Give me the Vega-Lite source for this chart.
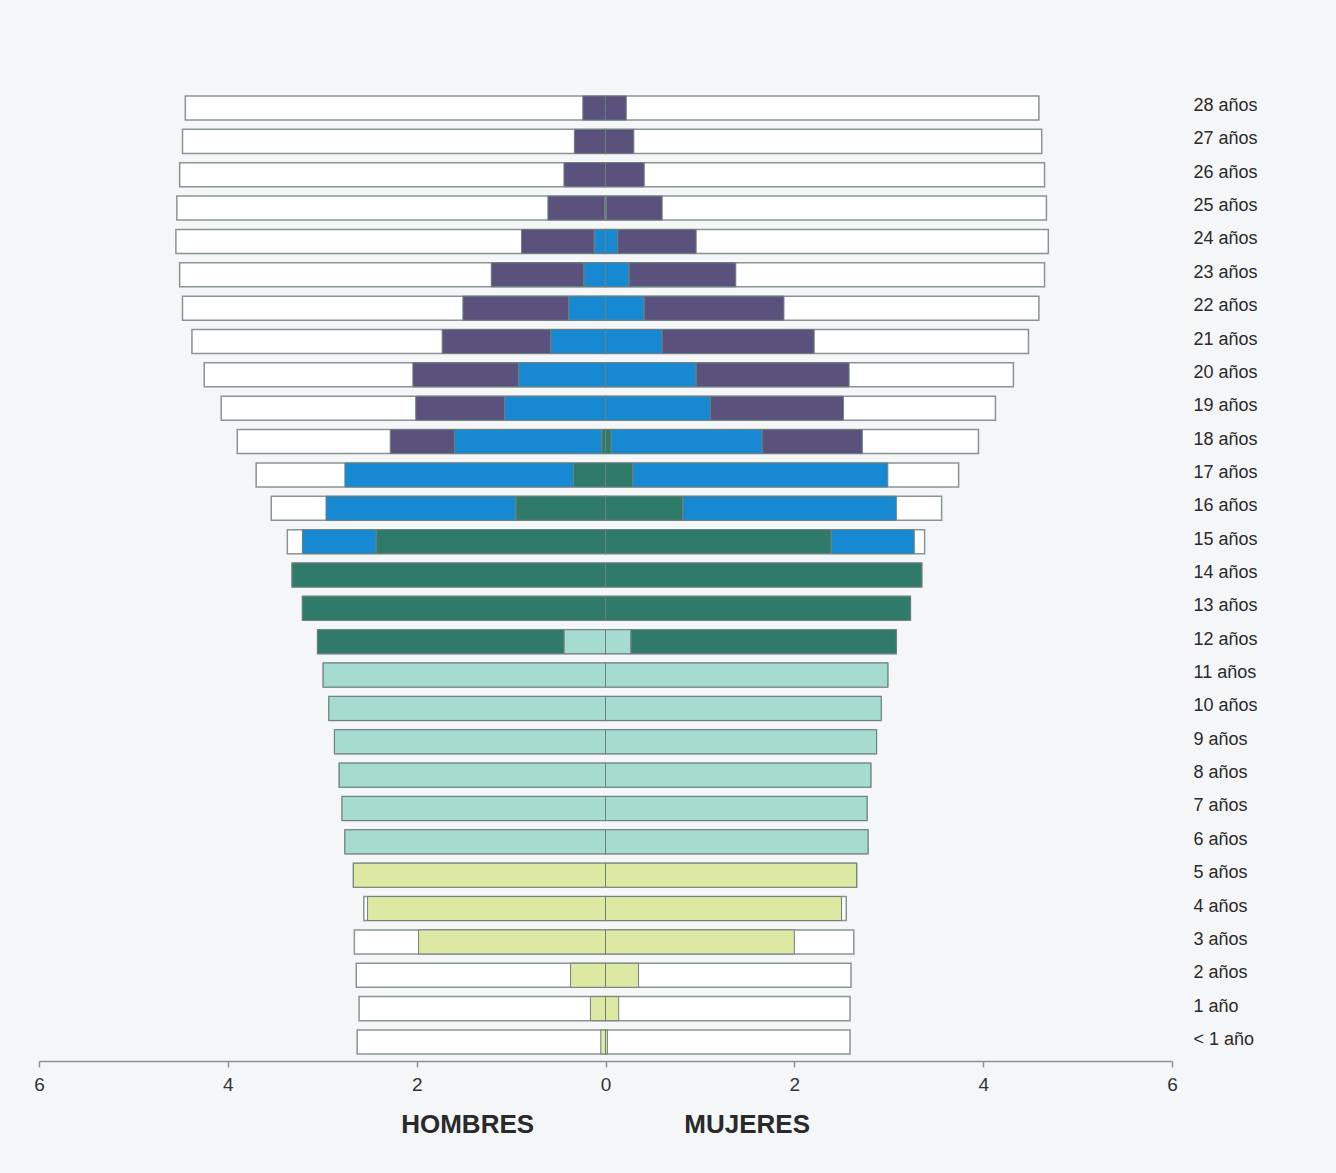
{
  "$schema": "https://vega.github.io/schema/vega-lite/v6.json",
  "autosize": "none",
  "width": 1133,
  "height": 972,
  "padding": {"left": 39, "top": 89, "right": 164, "bottom": 112},
  "background": "#f4f6f8",
  "config": {"view": {"stroke": null}, "font": "Liberation Sans"},
  "datasets": {
    "totales": [
      {"edad": "28 años", "sexo": "Hombres", "total": -4.45}, {"edad": "28 años", "sexo": "Mujeres", "total": 4.59},
      {"edad": "27 años", "sexo": "Hombres", "total": -4.48}, {"edad": "27 años", "sexo": "Mujeres", "total": 4.62},
      {"edad": "26 años", "sexo": "Hombres", "total": -4.51}, {"edad": "26 años", "sexo": "Mujeres", "total": 4.65},
      {"edad": "25 años", "sexo": "Hombres", "total": -4.54}, {"edad": "25 años", "sexo": "Mujeres", "total": 4.67},
      {"edad": "24 años", "sexo": "Hombres", "total": -4.55}, {"edad": "24 años", "sexo": "Mujeres", "total": 4.69},
      {"edad": "23 años", "sexo": "Hombres", "total": -4.51}, {"edad": "23 años", "sexo": "Mujeres", "total": 4.65},
      {"edad": "22 años", "sexo": "Hombres", "total": -4.48}, {"edad": "22 años", "sexo": "Mujeres", "total": 4.59},
      {"edad": "21 años", "sexo": "Hombres", "total": -4.38}, {"edad": "21 años", "sexo": "Mujeres", "total": 4.48},
      {"edad": "20 años", "sexo": "Hombres", "total": -4.25}, {"edad": "20 años", "sexo": "Mujeres", "total": 4.32},
      {"edad": "19 años", "sexo": "Hombres", "total": -4.07}, {"edad": "19 años", "sexo": "Mujeres", "total": 4.13},
      {"edad": "18 años", "sexo": "Hombres", "total": -3.90}, {"edad": "18 años", "sexo": "Mujeres", "total": 3.95},
      {"edad": "17 años", "sexo": "Hombres", "total": -3.70}, {"edad": "17 años", "sexo": "Mujeres", "total": 3.74},
      {"edad": "16 años", "sexo": "Hombres", "total": -3.54}, {"edad": "16 años", "sexo": "Mujeres", "total": 3.56},
      {"edad": "15 años", "sexo": "Hombres", "total": -3.37}, {"edad": "15 años", "sexo": "Mujeres", "total": 3.38},
      {"edad": "14 años", "sexo": "Hombres", "total": -3.32}, {"edad": "14 años", "sexo": "Mujeres", "total": 3.35},
      {"edad": "13 años", "sexo": "Hombres", "total": -3.21}, {"edad": "13 años", "sexo": "Mujeres", "total": 3.23},
      {"edad": "12 años", "sexo": "Hombres", "total": -3.05}, {"edad": "12 años", "sexo": "Mujeres", "total": 3.08},
      {"edad": "11 años", "sexo": "Hombres", "total": -2.99}, {"edad": "11 años", "sexo": "Mujeres", "total": 2.99},
      {"edad": "10 años", "sexo": "Hombres", "total": -2.93}, {"edad": "10 años", "sexo": "Mujeres", "total": 2.92},
      {"edad": "9 años", "sexo": "Hombres", "total": -2.87}, {"edad": "9 años", "sexo": "Mujeres", "total": 2.87},
      {"edad": "8 años", "sexo": "Hombres", "total": -2.82}, {"edad": "8 años", "sexo": "Mujeres", "total": 2.81},
      {"edad": "7 años", "sexo": "Hombres", "total": -2.79}, {"edad": "7 años", "sexo": "Mujeres", "total": 2.77},
      {"edad": "6 años", "sexo": "Hombres", "total": -2.76}, {"edad": "6 años", "sexo": "Mujeres", "total": 2.78},
      {"edad": "5 años", "sexo": "Hombres", "total": -2.67}, {"edad": "5 años", "sexo": "Mujeres", "total": 2.66},
      {"edad": "4 años", "sexo": "Hombres", "total": -2.56}, {"edad": "4 años", "sexo": "Mujeres", "total": 2.55},
      {"edad": "3 años", "sexo": "Hombres", "total": -2.66}, {"edad": "3 años", "sexo": "Mujeres", "total": 2.63},
      {"edad": "2 años", "sexo": "Hombres", "total": -2.64}, {"edad": "2 años", "sexo": "Mujeres", "total": 2.60},
      {"edad": "1 año", "sexo": "Hombres", "total": -2.61}, {"edad": "1 año", "sexo": "Mujeres", "total": 2.59},
      {"edad": "< 1 año", "sexo": "Hombres", "total": -2.63}, {"edad": "< 1 año", "sexo": "Mujeres", "total": 2.59}
    ],
    "niveles": [
      {"edad": "28 años", "sexo": "Hombres", "nivel": "Universidad", "valor": -0.24},
      {"edad": "28 años", "sexo": "Mujeres", "nivel": "Universidad", "valor": 0.22},
      {"edad": "27 años", "sexo": "Hombres", "nivel": "Universidad", "valor": -0.33},
      {"edad": "27 años", "sexo": "Mujeres", "nivel": "Universidad", "valor": 0.30},
      {"edad": "26 años", "sexo": "Hombres", "nivel": "Universidad", "valor": -0.44},
      {"edad": "26 años", "sexo": "Mujeres", "nivel": "Universidad", "valor": 0.41},
      {"edad": "25 años", "sexo": "Hombres", "nivel": "Bachillerato", "valor": -0.01},
      {"edad": "25 años", "sexo": "Hombres", "nivel": "Universidad", "valor": -0.60},
      {"edad": "25 años", "sexo": "Mujeres", "nivel": "Bachillerato", "valor": 0.01},
      {"edad": "25 años", "sexo": "Mujeres", "nivel": "Universidad", "valor": 0.59},
      {"edad": "24 años", "sexo": "Hombres", "nivel": "Bachillerato", "valor": -0.12},
      {"edad": "24 años", "sexo": "Hombres", "nivel": "Universidad", "valor": -0.77},
      {"edad": "24 años", "sexo": "Mujeres", "nivel": "Bachillerato", "valor": 0.13},
      {"edad": "24 años", "sexo": "Mujeres", "nivel": "Universidad", "valor": 0.83},
      {"edad": "23 años", "sexo": "Hombres", "nivel": "Bachillerato", "valor": -0.23},
      {"edad": "23 años", "sexo": "Hombres", "nivel": "Universidad", "valor": -0.98},
      {"edad": "23 años", "sexo": "Mujeres", "nivel": "Bachillerato", "valor": 0.25},
      {"edad": "23 años", "sexo": "Mujeres", "nivel": "Universidad", "valor": 1.13},
      {"edad": "22 años", "sexo": "Hombres", "nivel": "Bachillerato", "valor": -0.39},
      {"edad": "22 años", "sexo": "Hombres", "nivel": "Universidad", "valor": -1.12},
      {"edad": "22 años", "sexo": "Mujeres", "nivel": "Bachillerato", "valor": 0.41},
      {"edad": "22 años", "sexo": "Mujeres", "nivel": "Universidad", "valor": 1.48},
      {"edad": "21 años", "sexo": "Hombres", "nivel": "Bachillerato", "valor": -0.58},
      {"edad": "21 años", "sexo": "Hombres", "nivel": "Universidad", "valor": -1.15},
      {"edad": "21 años", "sexo": "Mujeres", "nivel": "Bachillerato", "valor": 0.60},
      {"edad": "21 años", "sexo": "Mujeres", "nivel": "Universidad", "valor": 1.61},
      {"edad": "20 años", "sexo": "Hombres", "nivel": "Bachillerato", "valor": -0.92},
      {"edad": "20 años", "sexo": "Hombres", "nivel": "Universidad", "valor": -1.12},
      {"edad": "20 años", "sexo": "Mujeres", "nivel": "Bachillerato", "valor": 0.96},
      {"edad": "20 años", "sexo": "Mujeres", "nivel": "Universidad", "valor": 1.62},
      {"edad": "19 años", "sexo": "Hombres", "nivel": "Bachillerato", "valor": -1.07},
      {"edad": "19 años", "sexo": "Hombres", "nivel": "Universidad", "valor": -0.94},
      {"edad": "19 años", "sexo": "Mujeres", "nivel": "Bachillerato", "valor": 1.11},
      {"edad": "19 años", "sexo": "Mujeres", "nivel": "Universidad", "valor": 1.41},
      {"edad": "18 años", "sexo": "Hombres", "nivel": "ESO", "valor": -0.04},
      {"edad": "18 años", "sexo": "Hombres", "nivel": "Bachillerato", "valor": -1.56},
      {"edad": "18 años", "sexo": "Hombres", "nivel": "Universidad", "valor": -0.68},
      {"edad": "18 años", "sexo": "Mujeres", "nivel": "ESO", "valor": 0.06},
      {"edad": "18 años", "sexo": "Mujeres", "nivel": "Bachillerato", "valor": 1.60},
      {"edad": "18 años", "sexo": "Mujeres", "nivel": "Universidad", "valor": 1.06},
      {"edad": "17 años", "sexo": "Hombres", "nivel": "ESO", "valor": -0.34},
      {"edad": "17 años", "sexo": "Hombres", "nivel": "Bachillerato", "valor": -2.42},
      {"edad": "17 años", "sexo": "Mujeres", "nivel": "ESO", "valor": 0.29},
      {"edad": "17 años", "sexo": "Mujeres", "nivel": "Bachillerato", "valor": 2.70},
      {"edad": "16 años", "sexo": "Hombres", "nivel": "ESO", "valor": -0.95},
      {"edad": "16 años", "sexo": "Hombres", "nivel": "Bachillerato", "valor": -2.01},
      {"edad": "16 años", "sexo": "Mujeres", "nivel": "ESO", "valor": 0.82},
      {"edad": "16 años", "sexo": "Mujeres", "nivel": "Bachillerato", "valor": 2.26},
      {"edad": "15 años", "sexo": "Hombres", "nivel": "ESO", "valor": -2.43},
      {"edad": "15 años", "sexo": "Hombres", "nivel": "Bachillerato", "valor": -0.78},
      {"edad": "15 años", "sexo": "Mujeres", "nivel": "ESO", "valor": 2.39},
      {"edad": "15 años", "sexo": "Mujeres", "nivel": "Bachillerato", "valor": 0.88},
      {"edad": "14 años", "sexo": "Hombres", "nivel": "ESO", "valor": -3.32},
      {"edad": "14 años", "sexo": "Mujeres", "nivel": "ESO", "valor": 3.35},
      {"edad": "13 años", "sexo": "Hombres", "nivel": "ESO", "valor": -3.21},
      {"edad": "13 años", "sexo": "Mujeres", "nivel": "ESO", "valor": 3.23},
      {"edad": "12 años", "sexo": "Hombres", "nivel": "Primaria", "valor": -0.44},
      {"edad": "12 años", "sexo": "Hombres", "nivel": "ESO", "valor": -2.61},
      {"edad": "12 años", "sexo": "Mujeres", "nivel": "Primaria", "valor": 0.27},
      {"edad": "12 años", "sexo": "Mujeres", "nivel": "ESO", "valor": 2.81},
      {"edad": "11 años", "sexo": "Hombres", "nivel": "Primaria", "valor": -2.99},
      {"edad": "11 años", "sexo": "Mujeres", "nivel": "Primaria", "valor": 2.99},
      {"edad": "10 años", "sexo": "Hombres", "nivel": "Primaria", "valor": -2.93},
      {"edad": "10 años", "sexo": "Mujeres", "nivel": "Primaria", "valor": 2.92},
      {"edad": "9 años", "sexo": "Hombres", "nivel": "Primaria", "valor": -2.87},
      {"edad": "9 años", "sexo": "Mujeres", "nivel": "Primaria", "valor": 2.87},
      {"edad": "8 años", "sexo": "Hombres", "nivel": "Primaria", "valor": -2.82},
      {"edad": "8 años", "sexo": "Mujeres", "nivel": "Primaria", "valor": 2.81},
      {"edad": "7 años", "sexo": "Hombres", "nivel": "Primaria", "valor": -2.79},
      {"edad": "7 años", "sexo": "Mujeres", "nivel": "Primaria", "valor": 2.77},
      {"edad": "6 años", "sexo": "Hombres", "nivel": "Primaria", "valor": -2.76},
      {"edad": "6 años", "sexo": "Mujeres", "nivel": "Primaria", "valor": 2.78},
      {"edad": "5 años", "sexo": "Hombres", "nivel": "Infantil", "valor": -2.67},
      {"edad": "5 años", "sexo": "Mujeres", "nivel": "Infantil", "valor": 2.66},
      {"edad": "4 años", "sexo": "Hombres", "nivel": "Infantil", "valor": -2.52},
      {"edad": "4 años", "sexo": "Mujeres", "nivel": "Infantil", "valor": 2.50},
      {"edad": "3 años", "sexo": "Hombres", "nivel": "Infantil", "valor": -1.98},
      {"edad": "3 años", "sexo": "Mujeres", "nivel": "Infantil", "valor": 2.00},
      {"edad": "2 años", "sexo": "Hombres", "nivel": "Infantil", "valor": -0.37},
      {"edad": "2 años", "sexo": "Mujeres", "nivel": "Infantil", "valor": 0.35},
      {"edad": "1 año", "sexo": "Hombres", "nivel": "Infantil", "valor": -0.16},
      {"edad": "1 año", "sexo": "Mujeres", "nivel": "Infantil", "valor": 0.14},
      {"edad": "< 1 año", "sexo": "Hombres", "nivel": "Infantil", "valor": -0.05},
      {"edad": "< 1 año", "sexo": "Mujeres", "nivel": "Infantil", "valor": 0.02}
    ],
    "rotulos": [
      {"etiqueta": "HOMBRES", "posicion": -1.46},
      {"etiqueta": "MUJERES", "posicion": 1.5}
    ]
  },
  "layer": [
    {
      "data": {"name": "totales"},
      "mark": {"type": "bar", "fill": "#ffffff", "stroke": "#8a9494", "strokeWidth": 1.5},
      "encoding": {
        "y": {
          "field": "edad", "type": "nominal",
          "scale": {
            "domain": ["28 años", "27 años", "26 años", "25 años", "24 años", "23 años", "22 años", "21 años", "20 años", "19 años", "18 años", "17 años", "16 años", "15 años", "14 años", "13 años", "12 años", "11 años", "10 años", "9 años", "8 años", "7 años", "6 años", "5 años", "4 años", "3 años", "2 años", "1 año", "< 1 año"],
            "paddingInner": 0.28, "paddingOuter": 0.21
          },
          "axis": {
            "orient": "right", "title": null, "domain": false, "ticks": false,
            "labelPadding": 21, "labelFontSize": 18, "labelColor": "#2a2a2a", "labelAlign": "left", "labelFont": "Liberation Sans", "labelOffset": -2
          }
        },
        "x": {
          "field": "total", "type": "quantitative", "stack": null,
          "scale": {"domain": [-6, 6], "nice": false},
          "axis": {
            "title": null, "values": [-6, -4, -2, 0, 2, 4, 6], "labelExpr": "abs(datum.value)",
            "grid": false, "domainColor": "#8a9494", "domainWidth": 1.5, "tickColor": "#8a9494", "tickSize": 6, "tickWidth": 1.5,
            "labelFontSize": 19, "labelColor": "#333333", "labelPadding": 8, "labelFont": "Liberation Sans", "labelFlush": false
          }
        }
      }
    },
    {
      "data": {"name": "niveles"},
      "transform": [
        {"calculate": "indexof(['Infantil','Primaria','ESO','Bachillerato','Universidad'], datum.nivel)", "as": "orden"}
      ],
      "mark": {"type": "bar", "stroke": "#6c807e", "strokeWidth": 1},
      "encoding": {
        "y": {"field": "edad", "type": "nominal"},
        "x": {"field": "valor", "type": "quantitative", "stack": "zero"},
        "color": {
          "field": "nivel", "type": "nominal", "legend": null,
          "scale": {
            "domain": ["Infantil", "Primaria", "ESO", "Bachillerato", "Universidad"],
            "range": ["#dde9a2", "#a6dbcf", "#307a6a", "#1789d3", "#5a527d"]
          }
        },
        "order": {"field": "orden", "type": "quantitative"}
      }
    },
    {
      "data": {"name": "rotulos"},
      "mark": {"type": "text", "y": {"expr": "height"}, "dy": 64, "fontSize": 26, "fontWeight": "bold", "font": "Liberation Sans", "color": "#2a2a2a", "baseline": "middle", "align": "center"},
      "encoding": {
        "x": {"field": "posicion", "type": "quantitative"},
        "text": {"field": "etiqueta"}
      }
    }
  ]
}
